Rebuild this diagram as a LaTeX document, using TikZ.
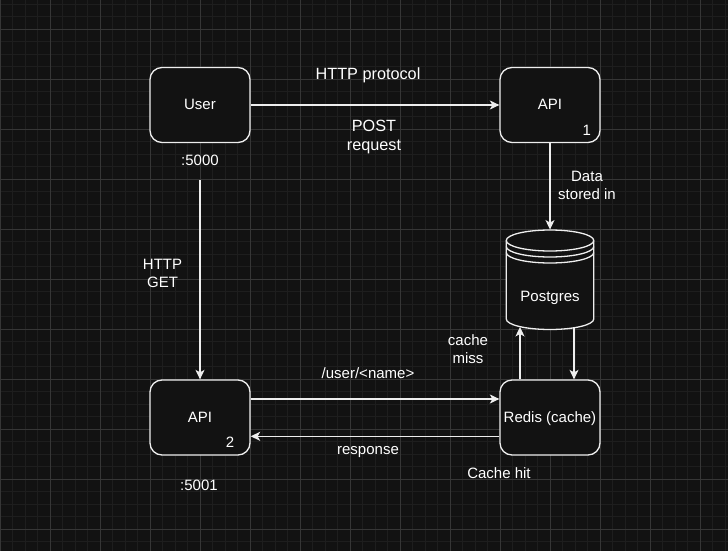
\documentclass[tikz,border=0pt]{standalone}
\usepackage{fontspec}
\setmainfont{Liberation Sans}
\usetikzlibrary{arrows.meta}
\definecolor{bgc}{HTML}{121212}
\definecolor{gridminor}{HTML}{1E1E1E}
\definecolor{gridmajor}{HTML}{363636}
\definecolor{fgc}{HTML}{EEEEEE}
\newcommand{\fsnorm}{\fontsize{15}{18}\selectfont}
\newcommand{\fsbig}{\fontsize{16.25}{18.5}\selectfont}
\begin{document}
\begin{tikzpicture}[x=1pt,y=-1pt,
  txt/.style={text=white, inner sep=0pt, align=center, font=\fsnorm},
  bigtxt/.style={txt, font=\fsbig},
  box/.style={draw=fgc, fill=bgc, line width=1.3pt, rounded corners=12pt,
    minimum width=100pt, minimum height=75pt, inner sep=0pt, text=white, font=\fsnorm,
    text height=12pt, text depth=2pt},
  arr/.style={draw=fgc, line width=1.3pt, -{Stealth[length=9.5pt,width=9pt,inset=2.5pt]}},
  cyl/.style={draw=fgc, line width=1.3pt}
]
\useasboundingbox (0,0) rectangle (728,551);
\fill[bgc] (0,0) rectangle (728,551);
% grid
\foreach \i in {0,...,58} \draw[gridminor, line width=0.8pt] (\i*12.5,0) -- (\i*12.5,551);
\foreach \j in {0,...,43} \draw[gridminor, line width=0.8pt] (0,4.3+12.5*\j) -- (728,4.3+12.5*\j);
\foreach \i in {0,...,14} \draw[gridmajor, line width=0.9pt] (\i*50,0) -- (\i*50,551);
\foreach \j in {0,...,10} \draw[gridmajor, line width=0.9pt] (0,29.3+50*\j) -- (728,29.3+50*\j);

% boxes
\node[box] (user) at (200,105) {User};
\node[box] (api1) at (550,105) {API};
\node[box] (api2) at (200,417.5) {API};
\node[box] (redis) at (550,417.5) {Redis (cache)};
\node[txt] (n1) at (586.7,131.4) {\strut 1};
\node[txt] (n2) at (230,444.1) {\strut 2};

% Postgres datastore
\node[inner sep=0pt, minimum width=87.5pt, minimum height=100pt] (pg) at (550,279.75) {};
\fill[bgc] (506.25,240.5) -- (506.25,319) arc[start angle=180, end angle=0, x radius=43.75, y radius=10.5]
  -- (593.75,240.5) arc[start angle=0, end angle=-180, x radius=43.75, y radius=10.5] -- cycle;
\draw[cyl] (506.25,240.5) -- (506.25,319) arc[start angle=180, end angle=0, x radius=43.75, y radius=10.5]
  -- (593.75,240.5);
\draw[cyl] (550,240.5) ellipse[x radius=43.75, y radius=10.5];
\draw[cyl] (593.75,246.5) arc[start angle=0, end angle=180, x radius=43.75, y radius=10.5];
\draw[cyl] (593.75,252.5) arc[start angle=0, end angle=180, x radius=43.75, y radius=10.5];
\node[txt] (pgl) at (550,297.4) {\strut Postgres};

% labels
\node[txt] (p5000) at (200,162) {\strut :5000};
\node[txt] (p5001) at (199,487) {\strut :5001};
\node[bigtxt] (lhttp) at (368,75.4) {\strut HTTP protocol};
\node[bigtxt] (lpost) at (374,137.1) {\strut POST\\\strut request};
\node[txt] (ldata) at (587,187.2) {\strut Data\\\strut stored in};
\node[txt] (lget) at (162.5,275.2) {\strut HTTP\\\strut GET};
\node[txt] (lmiss) at (468,350.9) {\strut cache\\\strut miss};
\node[txt] (luser) at (368,374.7) {\strut /user/<name>};
\node[txt] (lresp) at (368,450.4) {\strut response};
\node[txt] (lhit) at (499,474.7) {\strut Cache hit};

% connectors
\coordinate (gstart) at (200,180);
\draw[arr] (user.east) -- (api1.west);
\draw[arr] (api1.south) -- (pg.north);
\draw[arr] (gstart) -- (api2.north);
\draw[arr] ([yshift=18.5pt]api2.east) -- ([yshift=18.5pt]redis.west);
\draw[arr] ([yshift=-18.8pt]redis.west) -- ([yshift=-18.8pt]api2.east);
\draw[arr] ([xshift=-30pt]redis.north) -- ([xshift=-30pt,yshift=3pt]pg.south);
\draw[arr] ([xshift=24pt,yshift=2pt]pg.south) -- ([xshift=24pt]redis.north);
\end{tikzpicture}
\end{document}
